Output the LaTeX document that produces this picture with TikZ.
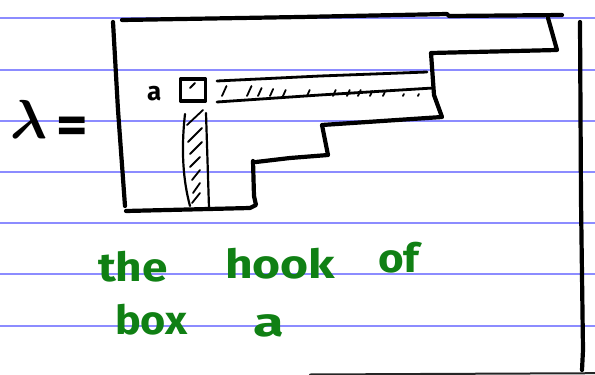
\documentclass[tikz,border=0pt]{standalone}
\usepackage{amsmath}
\usepackage{fontspec}
\newfontfamily\handfont{Fira Sans}
\definecolor{rulecol}{RGB}{140,140,255}
\definecolor{inkgreen}{RGB}{16,128,20}
\begin{document}
\begin{tikzpicture}[x=1pt,y=-1pt, line cap=round, line join=round,
  ruled/.style={draw=rulecol, line width=1.6pt},
  ink/.style={draw=black, line width=4.2pt},
  thinink/.style={draw=black, line width=2.8pt},
  hatch/.style={draw=black, line width=1.8pt},
  greentext/.style={text=inkgreen, font=\handfont\bfseries\fontsize{40}{40}\selectfont, anchor=base west, inner sep=0pt},
  blacktext/.style={text=black, anchor=base west, inner sep=0pt}]
\useasboundingbox (0,0) rectangle (595,375);
% ruled paper
\foreach \y in {18,70,121,172,223,274,326} \draw[ruled] (0,\y) -- (595,\y);
% lambda =
\node[blacktext] (lam) at (10,138) {\scalebox{5.5}{$\boldsymbol{\lambda}$}\hspace{9pt}{\handfont\bfseries\fontsize{38}{38}\selectfont\raisebox{-5pt}{\scalebox{1.6}[1.4]{=}}}};
% outline of the diagram
\draw[ink] (113,22) -- (118,110) -- (125,206);
\draw[ink] (126,211) -- (250,208) -- (256,205) -- (254,196) -- (253,161);
\draw[ink] (256,162) -- (290,158) -- (328,155) -- (322,125) -- (442,117) -- (434,95) -- (431,53) -- (557,50) -- (548,18);
\draw[ink] (122,20) -- (300,17) -- (447,14) -- (449,16) -- (562,15);
\draw[ink] (580,22) -- (581,200) -- (583,350) -- (582,370);
\draw[line width=2pt, black!85] (310,374.5) -- (595,373.2);
% box a
\node[draw, line width=3.4pt, minimum width=25pt, minimum height=22pt, inner sep=0pt] (boxa) at (193,90) {};
\draw[hatch] (190,88) -- (195,83);
\node[blacktext, font=\handfont\bfseries\fontsize{26}{26}\selectfont] (alabel) at (147,100) {a};
% arm
\draw[thinink] (217,81) -- (320,76) -- (427,72);
\draw[thinink] (217,102) -- (320,95) -- (433,88);
\foreach \x/\l in {222/10,247/10,258/8,270/7,283/6,307/6,333/6,347/6,358/6,370/5,383/4,403/2,418/2}
  \draw[hatch] (\x,96) -- ++(0.45*\l,-\l);
% leg
\draw[hatch, line width=2.2pt] (185,114) .. controls (181,150) and (183,180) .. (190,206);
\draw[hatch, line width=2.2pt] (206,113) -- (209,208);
\foreach \a/\b/\c/\d in {187/125/203/110, 188/142/202/128, 190/154/202/142, 190/167/200/157, 192/180/200/170, 193/193/200/183, 192/203/200/193}
  \draw[hatch] (\a,\b) -- (\c,\d);
% green text
\node[greentext] (wthe) at (98,281) {\scalebox{1.15}[1]{the}};
\node[greentext] (whook) at (225,278) {\scalebox{1.2}[1]{hook}};
\node[greentext] (wof) at (378,272) {\scalebox{1.1}[1]{of}};
\node[greentext] (wbox) at (115,334) {\scalebox{1.08}[1]{box}};
\node[greentext] (wa) at (253,336) {\scalebox{1.4}[1]{a}};
\end{tikzpicture}
\end{document}
